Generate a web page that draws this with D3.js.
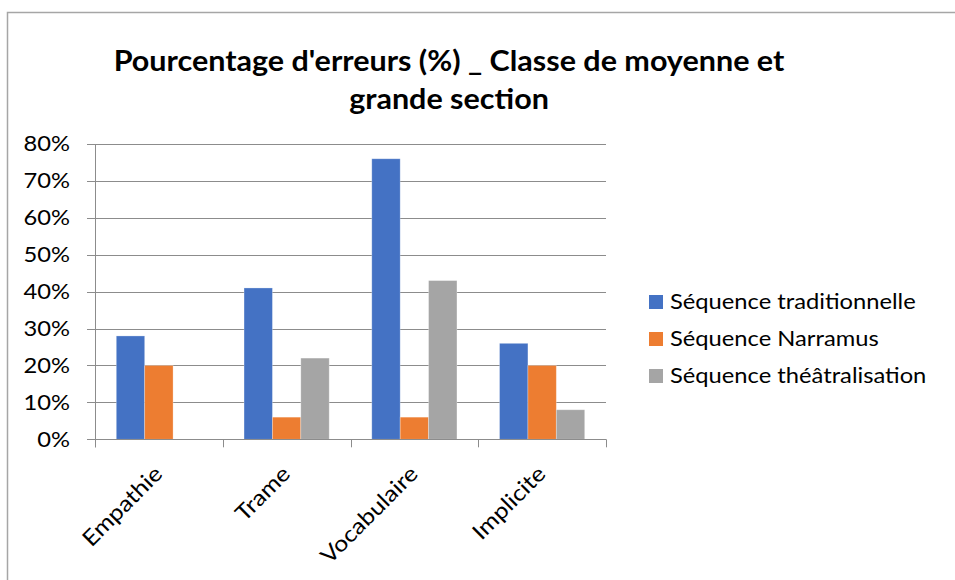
<!DOCTYPE html>
<html><head><meta charset="utf-8">
<script src="https://cdn.jsdelivr.net/npm/d3@7"></script>
<style>body{margin:0;background:#fff;} text{font-family:Lato, "Open Sans", sans-serif;fill:#000;}</style>
</head><body>
<svg id="chart" width="955" height="580"></svg>
<script>
const categories = ["Empathie", "Trame", "Vocabulaire", "Implicite"];
const seriesNames = ["Séquence traditionnelle", "Séquence Narramus", "Séquence théâtralisation"];
const traditionnelle = [0.28, 0.41, 0.76, 0.26];
const narramus = [0.20, 0.06, 0.06, 0.20];
const theatralisation = [0.00, 0.22, 0.43, 0.08];
const yTicks = [0, 0.1, 0.2, 0.3, 0.4, 0.5, 0.6, 0.7, 0.8];
const titleLines = ["Pourcentage d'erreurs (%) _ Classe de moyenne et", "grande section"];
const colors = ["#4472C4", "#ED7D31", "#A5A5A5"];

(function () {
const seriesValues = [traditionnelle, narramus, theatralisation];
const svg = d3.select("#chart");
const SX = 1.13; // horizontal text stretch to mimic the wide reference font

// outer border
svg.append("rect").attr("x", 7.5).attr("y", 12.5).attr("width", 960).attr("height", 600)
  .attr("fill", "#fff").attr("stroke", "#a6a6a6").attr("stroke-width", 1.5);

const pLeft = 95, pRight = 606, pTop = 144, pBottom = 439.3;
const y = d3.scaleLinear().domain([0, 0.8]).range([pBottom, pTop]);
const x = d3.scaleBand().domain(categories).range([pLeft, pRight]).paddingInner(0).paddingOuter(0);
const bw = x.bandwidth();
const gap = bw / (3 + 1.5) * 0.75;
const x1 = d3.scaleBand().domain(seriesNames).range([gap, bw - gap]).padding(0);

// gridlines
svg.append("g").selectAll("line").data(yTicks).join("line")
  .attr("x1", 87).attr("x2", pRight)
  .attr("y1", d => Math.round(y(d)) + 0.5).attr("y2", d => Math.round(y(d)) + 0.5)
  .attr("stroke", "#8c8c8c").attr("stroke-width", 1);

// bars
const g = svg.append("g");
categories.forEach((c, i) => {
  seriesNames.forEach((s, j) => {
    const v = seriesValues[j][i];
    if (v <= 0) return;
    g.append("rect")
      .attr("x", x(c) + x1(s)).attr("width", x1.bandwidth())
      .attr("y", y(v)).attr("height", y(0) - y(v))
      .attr("fill", colors[j]).attr("stroke", "#fff").attr("stroke-opacity", 0.35).attr("stroke-width", 0.8);
  });
});

// axes lines
svg.append("line").attr("x1", pLeft + 0.5).attr("x2", pLeft + 0.5).attr("y1", pTop).attr("y2", pBottom + 8)
  .attr("stroke", "#8c8c8c");
svg.append("line").attr("x1", 87).attr("x2", pRight).attr("y1", Math.round(pBottom) + 0.5).attr("y2", Math.round(pBottom) + 0.5)
  .attr("stroke", "#8c8c8c");
const catTicks = categories.map(c => x(c)).concat([pRight]);
svg.append("g").selectAll("line").data(catTicks).join("line")
  .attr("x1", d => Math.round(d) + 0.5).attr("x2", d => Math.round(d) + 0.5)
  .attr("y1", pBottom).attr("y2", pBottom + 8).attr("stroke", "#8c8c8c");

// y tick labels
svg.append("g").selectAll("text").data(yTicks).join("text")
  .attr("transform", d => `translate(70,${y(d)}) scale(${SX},1)`).attr("dy", "0.35em")
  .attr("text-anchor", "end").style("font-size", "21px")
  .text(d3.format(".0%"));

// category labels
svg.append("g").selectAll("text").data(categories).join("text")
  .attr("transform", d => `translate(${x(d) + bw / 2 + 5},${pBottom + 36}) rotate(-45) scale(${SX},1)`)
  .attr("text-anchor", "end").style("font-size", "22px")
  .text(d => d);

// title
svg.append("g").selectAll("text").data(titleLines).join("text")
  .attr("transform", (d, i) => `translate(449,${71 + i * 38}) scale(1.09,1)`)
  .attr("text-anchor", "middle").style("font-size", "28px").style("font-weight", "bold")
  .text(d => d);

// legend
const leg = svg.append("g").selectAll("g").data(seriesNames).join("g")
  .attr("transform", (d, i) => `translate(649,${302 + i * 37})`);
leg.append("rect").attr("x", 0).attr("y", -7).attr("width", 14).attr("height", 14)
  .attr("fill", (d, i) => colors[i]);
leg.append("text").attr("transform", `translate(21,0) scale(${SX},1)`).attr("dy", "0.35em")
  .style("font-size", "21px").text(d => d);
})();
</script>
</body></html>
